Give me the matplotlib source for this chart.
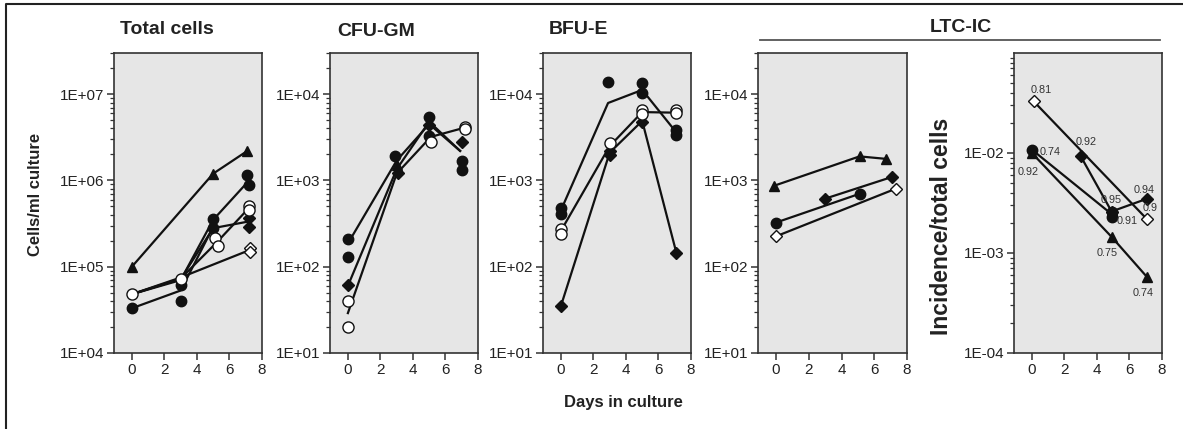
import matplotlib
matplotlib.use("Agg")
import matplotlib.pyplot as plt
from matplotlib.ticker import LogLocator, NullFormatter, FixedLocator, FixedFormatter

plt.rcParams['font.family'] = ['Liberation Sans', 'DejaVu Sans']

W, H = 1183, 429

# ---- Total cells (cells/ml) ----
tc_lines_x = [[0, 5, 7.1], [0, 3, 5, 7.1], [0, 3, 5, 7.2], [0, 3, 5.2, 7.2], [0, 3, 7.2], [0, 3, 5]]
tc_lines_y = [[1e5, 1.2e6, 2.2e6], [4.8e4, 7.0e4, 3.5e5, 9.5e5], [4.8e4, 7.2e4, 2.8e5, 3.35e5],
              [4.8e4, 7.3e4, 1.9e5, 4.8e5], [4.8e4, 7.5e4, 1.55e5], [3.3e4, 5.3e4, 2.9e5]]
tc_tri_x, tc_tri_y = [0, 5, 7.1], [1e5, 1.2e6, 2.2e6]
tc_fcirc_x = [0, 3, 3, 5, 5, 7.1, 7.2]
tc_fcirc_y = [3.35e4, 4.0e4, 6.2e4, 3.6e5, 2.8e5, 1.15e6, 8.8e5]
tc_fdia_x, tc_fdia_y = [7.2, 7.2], [3.7e5, 2.9e5]
tc_ocirc_x = [0, 3, 5.1, 5.3, 7.2, 7.2]
tc_ocirc_y = [4.8e4, 7.3e4, 2.15e5, 1.72e5, 5.1e5, 4.6e5]
tc_odia_x, tc_odia_y = [7.25, 7.25], [1.65e5, 1.5e5]

# ---- CFU-GM ----
gm_lines_x = [[0.1, 3, 5, 6.9], [0, 3, 5, 6.9], [0, 3, 5.1, 7.2]]
gm_lines_y = [[200, 1.7e3, 4.5e3, 2.2e3], [60, 1.35e3, 4.8e3, 2.2e3], [29, 1.2e3, 3.2e3, 4.1e3]]
gm_fcirc_x = [0, 0, 2.9, 5, 5, 7, 7]
gm_fcirc_y = [210, 130, 1.9e3, 5.5e3, 3.3e3, 1.7e3, 1.33e3]
gm_fdia_x, gm_fdia_y = [0, 3.1, 5, 7], [61, 1.23e3, 4.4e3, 2.8e3]
gm_tri_x, gm_tri_y = [3], [1.5e3]
gm_ocirc_x, gm_ocirc_y = [0, 0, 5.1, 7.2, 7.2], [40, 20, 2.8e3, 4.2e3, 3.9e3]

# ---- BFU-E ----
be_lines_x = [[0, 2.9, 5, 7.1], [0, 3, 5, 7.1], [0, 3, 5, 7.1]]
be_lines_y = [[450, 7.9e3, 1.12e4, 3.6e3], [260, 2.5e3, 6.2e3, 6.1e3], [35, 2.1e3, 4.9e3, 145]]
be_fcirc_x = [0, 0, 2.9, 5, 5, 7.1, 7.1]
be_fcirc_y = [480, 410, 1.37e4, 1.34e4, 1.02e4, 3.85e3, 3.35e3]
be_fdia_x, be_fdia_y = [0, 3, 3, 5, 7.1], [35, 1.95e3, 2.2e3, 4.8e3, 145]
be_ocirc_x = [0, 0, 3, 5, 5, 7.1, 7.1]
be_ocirc_y = [274, 240, 2.75e3, 6.5e3, 5.9e3, 6.6e3, 6.0e3]

# ---- LTC-IC (per ml) ----
lc_tri_x, lc_tri_y = [-0.1, 5.1, 6.7], [870, 1.9e3, 1.78e3]
lc_fdia_x, lc_fdia_y = [3, 7.1], [615, 1.1e3]
lc_fcirc_x, lc_fcirc_y = [0, 5.1], [325, 700]
lc_odia_x, lc_odia_y = [0, 7.3], [225, 800]

# ---- LTC-IC incidence ----
li_odia_x, li_odia_y = [0.1, 7.05], [3.3e-2, 2.2e-3]
li_fcirc_x, li_fcirc_y = [0, 4.9, 4.9], [1.08e-2, 2.55e-3, 2.3e-3]
li_fdia_x, li_fdia_y = [3, 4.9, 7.1], [9.3e-3, 2.6e-3, 3.5e-3]
li_tri_x, li_tri_y = [0, 4.9, 7.1], [1.0e-2, 1.45e-3, 5.7e-4]
li_line_fcirc_x, li_line_fcirc_y = [0, 4.9], [1.08e-2, 2.45e-3]
li_labels = ['0.81', '0.74', '0.92', '0.92', '0.95', '0.94', '0.9', '0.91', '0.75', '0.74']
li_lab_x = [0.58, 1.1, -0.25, 3.32, 4.9, 6.93, 7.24, 5.88, 4.6, 6.83]
li_lab_y = [4.3e-2, 1.02e-2, 6.5e-3, 1.3e-2, 3.4e-3, 4.3e-3, 2.8e-3, 2.1e-3, 1.0e-3, 4.0e-4]

LC = '#111111'
LW = 1.6


def px_axes(fig, left, right, top=53, bottom=353):
    return fig.add_axes([left / W, (H - bottom) / H, (right - left) / W, (bottom - top) / H])


def style(ax, ylim, majors, labels):
    ax.set_facecolor('#e6e6e6')
    ax.set_yscale('log')
    ax.set_xlim(-1.1, 8)
    ax.set_ylim(*ylim)
    ax.set_xticks([0, 2, 4, 6, 8])
    ax.yaxis.set_major_locator(FixedLocator(majors))
    ax.yaxis.set_major_formatter(FixedFormatter(labels))
    ax.yaxis.set_minor_locator(LogLocator(base=10, subs=range(2, 10), numticks=20))
    ax.yaxis.set_minor_formatter(NullFormatter())
    for s in ax.spines.values():
        s.set_color('#333333')
        s.set_linewidth(1.2)
    ax.tick_params(axis='both', which='major', direction='out', length=5, width=1.1,
                   color='#333333', labelsize=11, labelcolor='#222222', pad=2)
    ax.tick_params(axis='y', which='minor', direction='out', length=3, width=0.9, color='#333333')


def mk(ax, x, y, m, filled=True, ms=7.5):
    ax.plot(x, y, ls='none', marker=m, ms=ms, mfc=LC if filled else 'white',
            mec=LC, mew=1.0, zorder=4 if not filled else 3)


fig = plt.figure(figsize=(W / 100, H / 100), dpi=100)

# panel 1
ax1 = px_axes(fig, 114, 262)
style(ax1, (1e4, 3e7), [1e4, 1e5, 1e6, 1e7], ['1E+04', '1E+05', '1E+06', '1E+07'])
for lx, ly in zip(tc_lines_x, tc_lines_y):
    ax1.plot(lx, ly, color=LC, lw=LW, zorder=2)
mk(ax1, tc_tri_x, tc_tri_y, '^', ms=7)
mk(ax1, tc_fcirc_x, tc_fcirc_y, 'o')
mk(ax1, tc_fdia_x, tc_fdia_y, 'D', ms=5.8)
mk(ax1, tc_ocirc_x, tc_ocirc_y, 'o', filled=False, ms=8)
mk(ax1, tc_odia_x, tc_odia_y, 'D', filled=False, ms=6.3)

# panel 2
ax2 = px_axes(fig, 330, 478)
style(ax2, (10, 3e4), [10, 100, 1e3, 1e4], ['1E+01', '1E+02', '1E+03', '1E+04'])
for lx, ly in zip(gm_lines_x, gm_lines_y):
    ax2.plot(lx, ly, color=LC, lw=LW, zorder=2)
mk(ax2, gm_fcirc_x, gm_fcirc_y, 'o')
mk(ax2, gm_fdia_x, gm_fdia_y, 'D', ms=5.8)
mk(ax2, gm_tri_x, gm_tri_y, '^', ms=6.5)
mk(ax2, gm_ocirc_x, gm_ocirc_y, 'o', filled=False, ms=8)

# panel 3
ax3 = px_axes(fig, 543, 691)
style(ax3, (10, 3e4), [10, 100, 1e3, 1e4], ['1E+01', '1E+02', '1E+03', '1E+04'])
for lx, ly in zip(be_lines_x, be_lines_y):
    ax3.plot(lx, ly, color=LC, lw=LW, zorder=2)
mk(ax3, be_fcirc_x, be_fcirc_y, 'o')
mk(ax3, be_fdia_x, be_fdia_y, 'D', ms=5.8)
mk(ax3, be_ocirc_x, be_ocirc_y, 'o', filled=False, ms=8)

# panel 4
ax4 = px_axes(fig, 758, 907)
style(ax4, (10, 3e4), [10, 100, 1e3, 1e4], ['1E+01', '1E+02', '1E+03', '1E+04'])
for lx, ly in [(lc_tri_x, lc_tri_y), (lc_fdia_x, lc_fdia_y), (lc_fcirc_x, lc_fcirc_y), (lc_odia_x, lc_odia_y)]:
    ax4.plot(lx, ly, color=LC, lw=LW, zorder=2)
mk(ax4, lc_tri_x, lc_tri_y, '^', ms=7.5)
mk(ax4, lc_fdia_x, lc_fdia_y, 'D', ms=5.8)
mk(ax4, lc_fcirc_x, lc_fcirc_y, 'o')
mk(ax4, lc_odia_x, lc_odia_y, 'D', filled=False, ms=6.3)

# panel 5
ax5 = px_axes(fig, 1014, 1162)
style(ax5, (1e-4, 1e-1), [1e-4, 1e-3, 1e-2], ['1E-04', '1E-03', '1E-02'])
for lx, ly in [(li_odia_x, li_odia_y), (li_fdia_x, li_fdia_y), (li_tri_x, li_tri_y),
               (li_line_fcirc_x, li_line_fcirc_y)]:
    ax5.plot(lx, ly, color=LC, lw=LW, zorder=2)
mk(ax5, li_fcirc_x, li_fcirc_y, 'o')
mk(ax5, li_fdia_x, li_fdia_y, 'D', ms=5.8)
mk(ax5, li_tri_x, li_tri_y, '^', ms=7.5)
mk(ax5, li_odia_x, li_odia_y, 'D', filled=False, ms=6.3)
for t, x, y in zip(li_labels, li_lab_x, li_lab_y):
    ax5.text(x, y, t, fontsize=7.8, color='#333333', ha='center', va='center', zorder=5)

# titles and labels (pixel positions)
def ftext(x, y, s, **kw):
    fig.text(x / W, 1 - y / H, s, **kw)

ftext(167, 30, 'Total cells', fontsize=14, fontweight='bold', ha='center', va='center', color='#222222')
ftext(376, 32, 'CFU-GM', fontsize=14, fontweight='bold', ha='center', va='center', color='#222222')
ftext(578, 30, 'BFU-E', fontsize=14, fontweight='bold', ha='center', va='center', color='#222222')
ftext(961, 27, 'LTC-IC', fontsize=14, fontweight='bold', ha='center', va='center', color='#222222')
ftext(36, 194, 'Cells/ml culture', fontsize=12, fontweight='bold', rotation=90, ha='center', va='center', color='#222222')
ftext(942, 226, 'Incidence/total cells', fontsize=16.5, fontweight='bold', rotation=90, ha='center', va='center', color='#222222')
ftext(623, 403, 'Days in culture', fontsize=12, fontweight='bold', ha='center', va='center', color='#222222')

# LTC-IC bracket line and outer frame
fig.add_artist(plt.Line2D([760 / W, 1160 / W], [1 - 40 / H, 1 - 40 / H], color='#555555', lw=1.3))
fig.add_artist(plt.Line2D([6 / W, 6 / W, 1.0], [0, 1 - 4 / H, 1 - 4 / H], color='#222222', lw=1.5))

fig.savefig('out.png', dpi=100)
